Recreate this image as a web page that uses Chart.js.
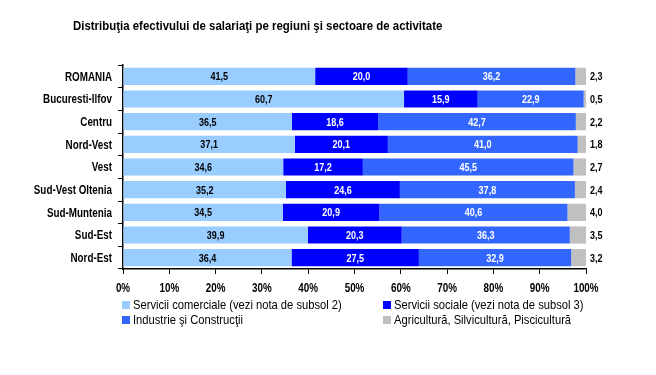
<!DOCTYPE html>
<html>
<head>
<meta charset="utf-8">
<script src="https://cdn.jsdelivr.net/npm/chart.js@4"></script>
<style>
  html, body { margin:0; padding:0; background:#fff; }
  #wrap { width:656px; height:375px; }
</style>
</head>
<body>
<div id="wrap"><canvas id="grafic" width="656" height="375"></canvas></div>
<script>
"use strict";

/* date */
const regiuni = ["ROMANIA","Bucuresti-Ilfov","Centru","Nord-Vest","Vest","Sud-Vest Oltenia","Sud-Muntenia","Sud-Est","Nord-Est"];
const serviciiComerciale = [41.5,60.7,36.5,37.1,34.6,35.2,34.5,39.9,36.4];
const serviciiSociale    = [20.0,15.9,18.6,20.1,17.2,24.6,20.9,20.3,27.5];
const industrie          = [36.2,22.9,42.7,41.0,45.5,37.8,40.6,36.3,32.9];
const agricultura        = [2.3,0.5,2.2,1.8,2.7,2.4,4.0,3.5,3.2];
const etichete = [
  "Servicii comerciale (vezi nota de subsol 2)",
  "Servicii sociale (vezi nota de subsol 3)",
  "Industrie şi Construcţii",
  "Agricultură, Silvicultură, Piscicultură"
];
const titlu = "Distribuţia efectivului de salariaţi pe regiuni şi sectoare de activitate";

const culori = ["#99ccff","#0000ff","#3366ff","#c0c0c0"];
const culoriText = ["#000000","#ffffff","#ffffff","#000000"];
const FONT = "'Liberation Sans', Arial, sans-serif";

const serii = [serviciiComerciale, serviciiSociale, industrie, agricultura];

function fmt(v){
    return v.toFixed(1).replace(".", ",");
}

/* text ingustat pe orizontala (imita Arial Narrow) */
function scrie(ctx, text, x, y, align, sx){
    ctx.save();
    ctx.translate(x, y);
    ctx.scale(sx || 0.82, 1);
    ctx.textAlign = align;
    ctx.fillText(text, 0, 0);
    ctx.restore();
}

/* plugin: titlu, etichete axe, valori, legenda */
const extra = {
    id:"extra",
    afterDraw(chart){
        const ctx = chart.ctx;
        ctx.save();
        ctx.textBaseline = "middle";
        ctx.fillStyle = "#000";

        ctx.font = "bold 13px " + FONT;
        scrie(ctx, titlu, 73, 26, "left", 0.88);

        /* categorii */
        const y = chart.scales.y;
        ctx.font = "bold 12px " + FONT;
        regiuni.forEach(function(r, i){
            scrie(ctx, r, y.right - 11, y.getPixelForValue(i) + 1, "right");
        });

        /* procente */
        const x = chart.scales.x;
        ctx.font = "bold 12px " + FONT;
        x.ticks.forEach(function(t){
            scrie(ctx, t.value + "%", x.getPixelForValue(t.value), 289, "center");
        });

        /* valori */
        ctx.font = "bold 11px " + FONT;
        chart.data.datasets.forEach(function(ds, i){
            const meta = chart.getDatasetMeta(i);
            meta.data.forEach(function(bar, j){
                const v = ds.data[j];
                ctx.fillStyle = culoriText[i];
                if(i === 3){
                    scrie(ctx, fmt(v), bar.x + 4, bar.y + 1, "left");
                }else{
                    scrie(ctx, fmt(v), (bar.base + bar.x) / 2, bar.y + 1, "center");
                }
            });
        });

        /* legenda pe doua coloane */
        const pozitii = [[122,305],[383,305],[122,320],[383,320]];
        ctx.font = "13px " + FONT;
        etichete.forEach(function(t, i){
            const p = pozitii[i];
            ctx.fillStyle = culori[i];
            ctx.fillRect(p[0], p[1] - 4, 8, 8);
            ctx.fillStyle = "#000";
            scrie(ctx, t, p[0] + 11, p[1], "left", 0.86);
        });

        ctx.restore();
    }
};

new Chart(document.getElementById("grafic"), {
    type:"bar",
    data:{
        labels:regiuni,
        datasets:serii.map(function(s, i){
            return {
                label:etichete[i],
                data:s,
                backgroundColor:culori[i],
                borderWidth:0,
                categoryPercentage:1,
                barPercentage:0.76
            };
        })
    },
    options:{
        indexAxis:"y",
        responsive:false,
        animation:false,
        layout:{ padding:{ left:0, top:65, right:70, bottom:76 } },
        plugins:{
            legend:{ display:false },
            title:{ display:false },
            tooltip:{ enabled:false }
        },
        scales:{
            x:{
                stacked:true,
                min:0,
                max:100,
                afterFit:function(s){ s.height = 30; },
                grid:{ drawOnChartArea:false, color:"#000", tickLength:5, tickColor:"#000" },
                border:{ color:"#000", width:1.5 },
                ticks:{ stepSize:10, display:false }
            },
            y:{
                stacked:true,
                afterFit:function(s){ s.width = 123; },
                grid:{ drawOnChartArea:false, offset:true, color:"#000", tickLength:5, tickColor:"#000" },
                border:{ color:"#000", width:1.5 },
                ticks:{ display:false }
            }
        }
    },
    plugins:[extra]
});
</script>
</body>
</html>
